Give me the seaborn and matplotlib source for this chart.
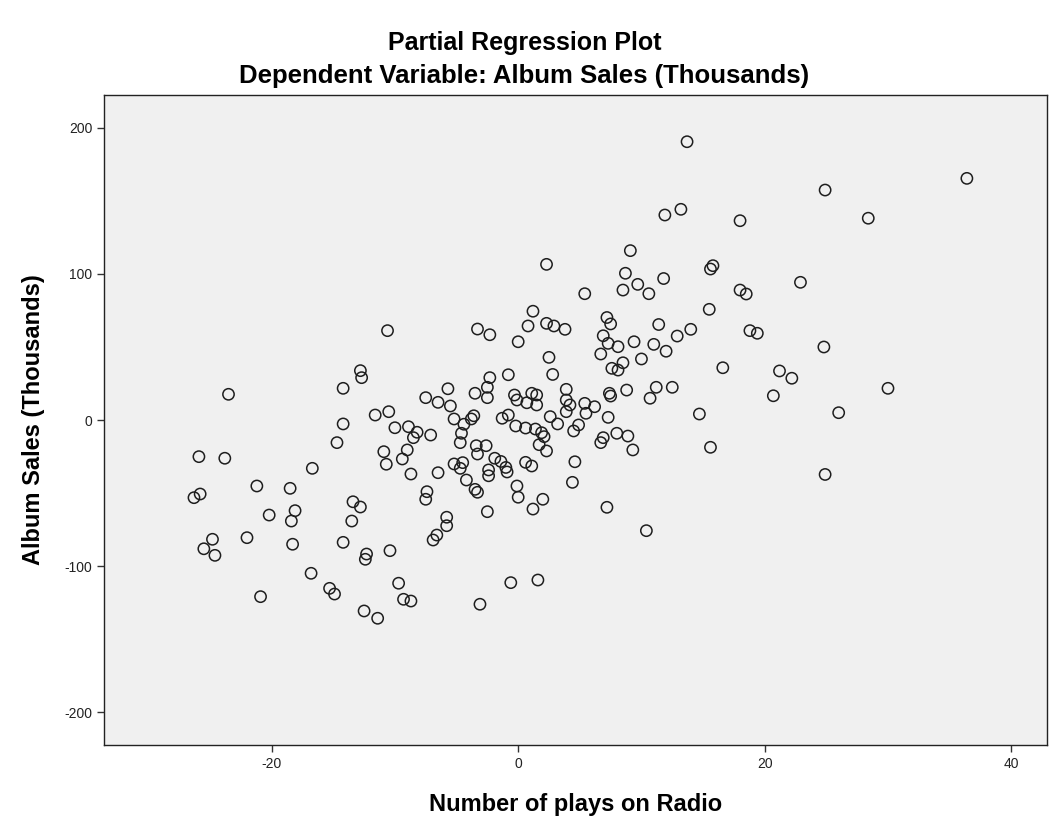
import matplotlib
matplotlib.use("Agg")
import matplotlib.pyplot as plt
import seaborn as sns
import pandas as pd

# partial residuals
radio_plays = [
    -23.5, -25.9, -23.8, -21.2, -26.3, -25.8, -20.2, -18.5, -18.1, -18.4,
    -22.0, -24.8, -25.5, -24.6, -18.3, -16.8, -20.9, -15.3, -14.9, -12.5,
    -11.4, -16.7, -14.2, -12.8, -12.7, -11.6, -14.2, -14.7, -13.4, -12.8,
    -13.5, -14.2, -12.3, -12.4, -10.6, -3.3, -2.3, 0.0, -2.3, -0.8,
    -5.7, -3.5, -2.5, -2.5, -7.5, -6.5, -5.5, -0.3, -0.1, -10.5,
    -5.2, -3.8, -3.6, -4.4, -1.3, -0.8, -0.2, -10.0, -8.9, -8.2,
    -8.5, -7.1, -4.6, -4.7, -3.4, -2.6, -3.3, -10.9, -10.7, -9.0,
    -9.4, -5.2, -4.5, -4.7, -1.9, -1.4, -1.0, -2.4, -8.7, -6.5,
    -4.2, -2.4, -0.9, -3.5, -3.3, -0.1, 0.0, -7.4, -7.5, -5.8,
    -5.8, -6.6, -6.9, -2.5, -10.4, -9.7, -9.3, -8.7, -3.1, -0.6,
    11.9, 9.1, 2.3, 8.7, 11.8, 5.4, 8.5, 9.7, 10.6, 1.2,
    7.2, 11.4, 0.8, 2.3, 2.9, 3.8, 7.5, 6.9, 7.3, 8.1,
    9.4, 11.0, 12.0, 6.7, 8.5, 7.6, 8.1, 10.0, 2.5, 2.8,
    3.9, 0.7, 1.1, 1.5, 1.5, 3.9, 4.2, 5.4, 6.2, 5.5,
    7.4, 7.5, 8.8, 11.2, 10.7, 12.5, 2.6, 3.2, 3.9, 0.6,
    1.4, 1.9, 2.1, 1.7, 2.3, 4.9, 4.5, 7.3, 8.0, 8.9,
    6.9, 6.7, 9.3, 4.6, 0.6, 1.1, 4.4, 2.0, 1.2, 7.2,
    10.4, 1.6, 13.7, 24.9, 13.2, 18.0, 15.8, 15.6, 22.9, 18.0,
    18.5, 15.5, 14.0, 12.9, 18.8, 19.4, 24.8, 16.6, 21.2, 22.2,
    20.7, 14.7, 15.6, 24.9, 36.4, 28.4, 30.0, 26.0,
]
album_sales = [
    17.6, -25.1, -26.2, -45.2, -53.2, -50.7, -65.1, -46.8, -62.1, -69.2,
    -80.6, -81.7, -88.2, -92.7, -85.1, -105.0, -121.0, -115.3, -119.2, -130.8,
    -135.8, -33.1, 21.7, 33.8, 29.0, 3.4, -2.7, -15.5, -56.0, -59.6,
    -69.2, -83.8, -91.8, -95.4, 61.2, 62.3, 58.4, 53.6, 29.0, 31.0,
    21.4, 18.3, 22.4, 15.3, 15.3, 12.1, 9.6, 17.1, 13.7, 5.7,
    0.7, 0.7, 2.9, -2.9, 1.2, 3.4, -4.1, -5.3, -4.6, -8.4,
    -12.1, -10.3, -9.1, -15.5, -17.6, -17.6, -23.3, -21.7, -30.3, -20.5,
    -26.7, -30.1, -29.2, -33.1, -26.2, -28.4, -32.5, -34.2, -37.0, -36.1,
    -41.1, -38.2, -35.6, -47.5, -49.5, -45.2, -52.9, -49.1, -54.3, -66.6,
    -72.4, -78.8, -82.2, -62.8, -89.5, -111.8, -122.8, -124.0, -126.2, -111.4,
    140.4, 116.0, 106.6, 100.5, 96.9, 86.5, 89.0, 92.9, 86.5, 74.5,
    70.2, 65.4, 64.4, 66.2, 64.4, 62.1, 65.8, 57.7, 52.5, 50.2,
    53.6, 51.8, 47.1, 45.2, 39.2, 35.4, 34.2, 41.8, 42.9, 31.2,
    21.0, 11.8, 18.3, 17.1, 10.3, 13.7, 10.3, 11.4, 9.1, 4.6,
    18.3, 16.4, 20.5, 22.4, 14.9, 22.4, 2.3, -2.7, 5.7, -5.5,
    -6.2, -8.7, -11.4, -16.9, -21.2, -3.4, -7.5, 1.8, -9.1, -11.0,
    -12.1, -15.5, -20.5, -28.6, -29.0, -31.5, -42.7, -54.3, -61.0, -59.8,
    -75.8, -109.6, 190.6, 157.5, 144.3, 136.5, 105.7, 103.4, 94.3, 89.0,
    86.3, 75.8, 62.1, 57.5, 61.2, 59.4, 50.0, 35.8, 33.6, 28.6,
    16.6, 4.1, -18.7, -37.3, 165.5, 138.2, 21.7, 5.0,
]
x_ticks = [-20, 0, 20, 40]
y_ticks = [-200, -100, 0, 100, 200]

df = pd.DataFrame({"radio": radio_plays, "sales": album_sales})

sns.set_theme(style="white")
plt.rcParams["font.family"] = ["Liberation Sans", "DejaVu Sans"]
plt.rcParams["axes.unicode_minus"] = False

fig = plt.figure(figsize=(10.49, 8.3), dpi=100)
fig.patch.set_facecolor("white")
ax = fig.add_axes([104 / 1049, 1 - 745 / 830, 943 / 1049, 650 / 830])
ax.set_facecolor("#f0f0f0")

sns.scatterplot(data=df, x="radio", y="sales", ax=ax, marker="o", s=66,
                facecolor="none", edgecolor="#1e1e1e", linewidth=1.1, legend=False)
ax.collections[0].set_facecolor("none")

ax.set_xlim(-33.6, 42.9)
ax.set_ylim(-222.6, 222.6)
ax.set_xticks(x_ticks)
ax.set_yticks(y_ticks)
ax.tick_params(axis="both", direction="out", length=5, width=1, color="#333333",
               labelsize=10, labelcolor="#222222", left=True, bottom=True)

for side in ["top", "right", "bottom", "left"]:
    ax.spines[side].set_visible(True)
    ax.spines[side].set_color("#222222")
    ax.spines[side].set_linewidth(1.0)

ax.set_xlabel("Number of plays on Radio", fontsize=17, fontweight="bold",
              labelpad=16, color="black")
ax.set_ylabel("Album Sales (Thousands)", fontsize=17, fontweight="bold",
              labelpad=14, color="black")

fig.text(0.5, 1 - 43 / 830, "Partial Regression Plot", ha="center", va="center",
         fontsize=18, fontweight="bold", color="black")
fig.text(0.5, 1 - 76 / 830, "Dependent Variable: Album Sales (Thousands)", ha="center",
         va="center", fontsize=18.5, fontweight="bold", color="black")

fig.savefig("out.png", dpi=100)
